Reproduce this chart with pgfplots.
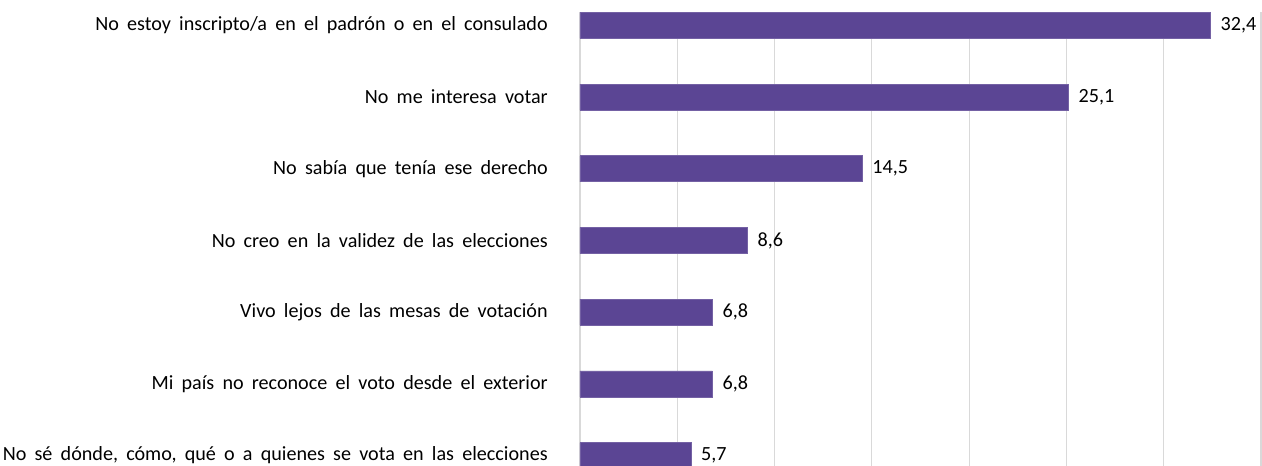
\documentclass[border=0pt]{standalone}
\usepackage{pgfplots}
\pgfplotsset{compat=1.18}
\usepackage{fontspec}
\setmainfont{Carlito}[WordSpace=1.8]
\definecolor{barpurple}{RGB}{91,69,148}
\definecolor{gridgray}{RGB}{217,217,217}
\begin{document}
\begin{tikzpicture}
\begin{axis}[
  at={(0pt,0pt)}, anchor=south west,
  scale only axis,
  width=510.75pt, height=340.3pt,
  xbar, bar width=0.363, bar shift=0pt,
  y dir=reverse,
  xmin=0, xmax=35,
  ymin=-0.183, ymax=6.145,
  xtick={0,5,...,35}, xticklabel=\empty,
  xmajorgrids, grid style={gridgray, line width=0.9pt},
  ytick={0,1,2,3,4,5,6},
  yticklabels={No estoy inscripto/a en el padrón o en el consulado,
    No me interesa votar,
    {No sabía que tenía ese derecho\hspace{2.5pt}},
    {No creo en la validez de las elecciones\hspace{5pt}},
    Vivo lejos de las mesas de votación,
    Mi país no reconoce el voto desde el exterior,
    {No sé dónde, cómo, qué o a quienes se vota en las elecciones}},
  yticklabel style={font=\fontsize{15.1}{18}\selectfont, anchor=east, inner sep=0pt, xshift=-24pt},
  axis line style={draw=none},
  major tick length=0pt,
  tick style={draw=none},
  nodes near coords={\pgfmathprintnumber[fixed,fixed zerofill,precision=1,use comma,assume math mode=true]{\pgfplotspointmeta}},
  point meta=explicit,
  every node near coord/.append style={font=\fontsize{15.1}{18}\selectfont, anchor=west, inner sep=0pt, xshift=7.5pt, text=black},
]
\addplot[fill=barpurple, draw=barpurple!85!white, line width=0.5pt] coordinates {
  (32.4,0) [32.4]
  (25.1,1) [25.1]
  (14.5,2) [14.5]
  (8.6,3) [8.6]
  (6.8,4) [6.8]
  (6.8,5) [6.8]
  (5.7,6) [5.7]
};
\end{axis}
\pgfresetboundingbox
\path[use as bounding box] (-435pt,0pt) rectangle (511.5pt,349.5pt);
\end{tikzpicture}
\end{document}
